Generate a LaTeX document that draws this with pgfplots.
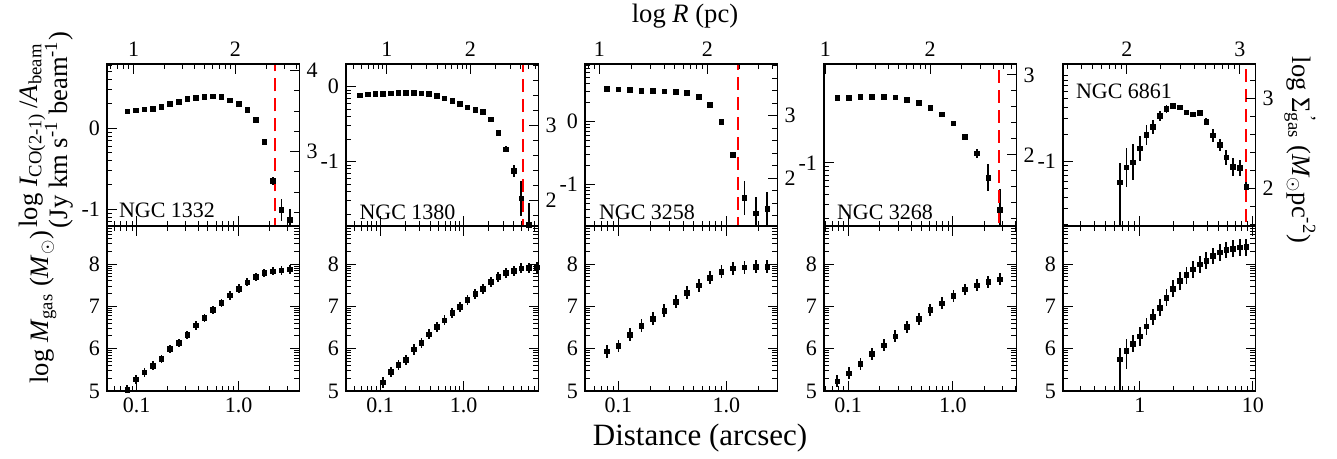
\documentclass[border=0pt]{standalone}
\usepackage{pgfplots}
\usepackage{pgfplotstable}
\pgfplotsset{compat=1.18}
\usepackage{fontspec}
\setmainfont{Liberation Serif}

\newcommand{\tickfont}{\fontsize{11}{12}\selectfont}
\newcommand{\labfont}{\fontsize{15.5}{17}\selectfont}
\newcommand{\sidefont}{\fontsize{13.3}{15}\selectfont}

\pgfplotsset{every axis/.append style={scale only axis, width=96.25pt,
   axis line style={line width=0.7pt},
   major tick length=5pt, minor tick length=2.6pt,
   tick style={black, line width=0.5pt},
   tick label style={font=\tickfont}}}

% ---------- NGC 1332 ----------
\pgfplotstableread{
x y ep em
0.0809 0.210 0.01 0.01
0.0982 0.222 0.01 0.01
0.1191 0.234 0.01 0.01
0.1445 0.238 0.01 0.01
0.1754 0.267 0.01 0.01
0.2128 0.304 0.01 0.01
0.2582 0.325 0.01 0.01
0.3133 0.366 0.01 0.01
0.3802 0.378 0.01 0.01
0.4613 0.390 0.01 0.01
0.5598 0.395 0.01 0.01
0.6792 0.386 0.01 0.01
0.8241 0.346 0.01 0.01
1.0000 0.304 0.01 0.01
1.2134 0.230 0.01 0.01
1.4723 0.102 0.01 0.01
1.7865 -0.165 0.02 0.02
2.1677 -0.647 0.05 0.05
2.6303 -1.009 0.14 0.14
3.1915 -1.132 0.14 0.14
}\tA
\pgfplotstableread{
x y ep em
0.0809 5.03 0.1 0.1
0.0982 5.27 0.1 0.1
0.1191 5.44 0.1 0.1
0.1445 5.60 0.1 0.1
0.1754 5.76 0.1 0.1
0.2128 5.99 0.1 0.1
0.2582 6.14 0.1 0.1
0.3133 6.32 0.1 0.1
0.3802 6.55 0.1 0.1
0.4613 6.73 0.1 0.1
0.5598 6.91 0.1 0.1
0.6792 7.08 0.1 0.1
0.8241 7.26 0.1 0.1
1.0000 7.42 0.1 0.1
1.2134 7.57 0.1 0.1
1.4723 7.69 0.1 0.1
1.7865 7.79 0.1 0.1
2.1677 7.83 0.1 0.1
2.6303 7.85 0.1 0.1
3.1915 7.87 0.1 0.1
}\bA
% ---------- NGC 1380 ----------
\pgfplotstableread{
x y ep em
0.0575 -0.115 0.01 0.01
0.0711 -0.102 0.01 0.01
0.0879 -0.097 0.01 0.01
0.1086 -0.093 0.01 0.01
0.1343 -0.089 0.01 0.01
0.1660 -0.084 0.01 0.01
0.2051 -0.080 0.01 0.01
0.2535 -0.084 0.01 0.01
0.3133 -0.089 0.01 0.01
0.3873 -0.097 0.01 0.01
0.4786 -0.120 0.01 0.01
0.5916 -0.155 0.01 0.01
0.7311 -0.191 0.01 0.01
0.9036 -0.227 0.01 0.01
1.1169 -0.275 0.01 0.01
1.3804 -0.306 0.01 0.01
1.7061 -0.333 0.01 0.01
2.1086 -0.435 0.02 0.02
2.6062 -0.613 0.03 0.03
3.2211 -0.835 0.04 0.04
3.9811 -1.120 0.08 0.08
4.9204 -1.488 0.23 0.23
6.0814 -1.844 0.30 0.30
}\tB
\pgfplotstableread{
x y ep em
0.1086 5.20 0.12 0.12
0.1343 5.45 0.12 0.12
0.1660 5.61 0.12 0.12
0.2051 5.73 0.12 0.12
0.2535 5.98 0.12 0.12
0.3133 6.14 0.12 0.12
0.3873 6.34 0.12 0.12
0.4786 6.51 0.12 0.12
0.5916 6.67 0.12 0.12
0.7311 6.85 0.12 0.12
0.9036 6.99 0.12 0.12
1.1169 7.15 0.12 0.12
1.3804 7.29 0.12 0.12
1.7061 7.42 0.12 0.12
2.1086 7.58 0.12 0.12
2.6062 7.70 0.12 0.12
3.2211 7.79 0.12 0.12
3.9811 7.84 0.12 0.12
4.9204 7.90 0.12 0.12
6.0814 7.91 0.12 0.12
7.5162 7.92 0.12 0.12
}\bB
% ---------- NGC 3258 ----------
\pgfplotstableread{
x y ep em
0.0787 0.522 0.01 0.01
0.1005 0.516 0.01 0.01
0.1282 0.505 0.01 0.01
0.1637 0.494 0.01 0.01
0.2089 0.490 0.01 0.01
0.2667 0.484 0.01 0.01
0.3404 0.479 0.01 0.01
0.4345 0.463 0.01 0.01
0.5546 0.399 0.01 0.01
0.7079 0.271 0.01 0.01
0.9036 -0.005 0.01 0.01
1.1535 -0.531 0.03 0.03
1.4723 -1.212 0.27 0.27
1.8793 -1.467 0.27 0.27
2.3988 -1.392 0.27 0.27
}\tC
\pgfplotstableread{
x y ep em
0.0787 5.94 0.15 0.15
0.1005 6.06 0.15 0.15
0.1282 6.33 0.15 0.15
0.1637 6.54 0.15 0.15
0.2089 6.71 0.15 0.15
0.2667 6.90 0.15 0.15
0.3404 7.11 0.15 0.15
0.4345 7.32 0.15 0.15
0.5546 7.50 0.15 0.15
0.7079 7.68 0.15 0.15
0.9036 7.82 0.15 0.15
1.1535 7.90 0.15 0.15
1.4723 7.92 0.15 0.15
1.8793 7.94 0.15 0.15
2.3988 7.94 0.15 0.15
}\bC
% ---------- NGC 3268 ----------
\pgfplotstableread{
x y ep em
0.0785 -0.192 0.02 0.02
0.1014 -0.187 0.02 0.02
0.1309 -0.179 0.02 0.02
0.1690 -0.175 0.02 0.02
0.2183 -0.175 0.02 0.02
0.2818 -0.183 0.02 0.02
0.3639 -0.212 0.02 0.02
0.4699 -0.254 0.02 0.02
0.6067 -0.317 0.02 0.02
0.7834 -0.396 0.02 0.02
1.0116 -0.508 0.02 0.02
1.3062 -0.675 0.03 0.03
1.6866 -0.883 0.06 0.06
2.1777 -1.187 0.17 0.17
2.8119 -1.592 0.27 0.27
}\tD
\pgfplotstableread{
x y ep em
0.0785 5.23 0.14 0.14
0.1014 5.42 0.14 0.14
0.1309 5.64 0.14 0.14
0.1690 5.87 0.14 0.14
0.2183 6.08 0.14 0.14
0.2818 6.29 0.14 0.14
0.3639 6.51 0.14 0.14
0.4699 6.71 0.14 0.14
0.6067 6.91 0.14 0.14
0.7834 7.07 0.14 0.14
1.0116 7.25 0.14 0.14
1.3062 7.40 0.14 0.14
1.6866 7.50 0.14 0.14
2.1777 7.58 0.14 0.14
2.8119 7.64 0.14 0.14
}\bD
% ---------- NGC 6861 ----------
\pgfplotstableread{
x y ep em
0.6659 -1.229 0.21 0.50
0.7630 -1.063 0.22 0.22
0.8734 -1.007 0.20 0.20
1.0005 -0.852 0.14 0.14
1.1457 -0.704 0.11 0.11
1.3122 -0.612 0.08 0.08
1.5028 -0.493 0.06 0.06
1.7211 -0.415 0.04 0.04
1.9712 -0.382 0.03 0.03
2.2576 -0.396 0.03 0.03
2.5856 -0.452 0.03 0.03
2.9611 -0.474 0.03 0.03
3.3912 -0.459 0.03 0.03
3.8838 -0.556 0.04 0.04
4.4479 -0.707 0.07 0.07
5.0933 -0.816 0.07 0.07
5.8345 -0.952 0.08 0.08
6.6834 -1.056 0.10 0.10
7.6543 -1.067 0.09 0.09
8.7621 -1.278 0.15 0.15
}\tE
\pgfplotstableread{
x y ep em
0.6659 5.75 0.27 1.00
0.7630 5.95 0.29 0.42
0.8734 6.12 0.20 0.20
1.0005 6.29 0.22 0.22
1.1457 6.53 0.20 0.20
1.3122 6.75 0.18 0.18
1.5028 6.97 0.20 0.20
1.7211 7.20 0.20 0.20
1.9712 7.42 0.21 0.21
2.2576 7.60 0.22 0.22
2.5856 7.74 0.20 0.20
2.9611 7.87 0.20 0.20
3.3912 7.99 0.20 0.20
3.8838 8.08 0.20 0.20
4.4479 8.19 0.20 0.20
5.0933 8.28 0.20 0.20
5.8345 8.33 0.19 0.19
6.6834 8.36 0.20 0.20
7.6543 8.39 0.20 0.20
8.7621 8.40 0.20 0.20
}\bE

\begin{document}
\begin{tikzpicture}
\path[use as bounding box] (0,0) rectangle (668.5pt,229.5pt);

% ===== Panel 1: NGC 1332 =====
\begin{axis}[xmode=log, height=81pt, at={(53.5pt,116.5pt)}, anchor=south west,
  xmin=0.0511, xmax=3.954, ymin=-1.206, ymax=0.794,
  xtick={0.1,1}, xticklabels={,}, xtick pos=left, ytick pos=left,
  minor xtick={0.03,0.04,0.05,0.06,0.07,0.08,0.09,0.2,0.3,0.4,0.5,0.6,0.7,0.8,0.9,2,3,4,5,6,7,8,9},
  ytick={-1,0}, yticklabels={-1,0},
  minor ytick={-1.155,-1.097,-1.046,-0.699,-0.523,-0.398,-0.301,-0.222,-0.155,-0.097,-0.046,0.301,0.477,0.602,0.699,0.778}]
\addplot[only marks, mark=square*, mark size=1.15pt, black, error bars/.cd, y dir=both, y explicit, error mark=none, error bar style={line width=0.9pt}] table[x=x,y=y,y error plus=ep,y error minus=em]{\tA};
\addplot[red, line width=1pt, dash pattern=on 6.5pt off 3.5pt] coordinates {(2.26,-3) (2.26,3)};
\end{axis}
\begin{axis}[xmode=log, height=81pt, at={(53.5pt,116.5pt)}, anchor=south west,
  xmin=5.49, xmax=425, ymin=2.083, ymax=4.083,
  xtick pos=right, xticklabel pos=right, ytick pos=right, yticklabel pos=right,
  xtick={10,100,1000}, xticklabels={1,2,3},
  minor xtick={6,7,8,9,20,30,40,50,60,70,80,90,200,300,400},
  ytick={3,4}, yticklabels={3,4}, minor ytick={2.25,2.5,2.75,3.25,3.5,3.75}]
\end{axis}
\begin{axis}[xmode=log, height=82.5pt, at={(53.5pt,34pt)}, anchor=south west,
  xmin=0.0511, xmax=3.954, ymin=5, ymax=8.9,
  xtick={0.1,1}, xticklabels={0.1,1.0}, xtick pos=both, xticklabel pos=left,
  ytick pos=both, yticklabel pos=left,
  minor xtick={0.03,0.04,0.05,0.06,0.07,0.08,0.09,0.2,0.3,0.4,0.5,0.6,0.7,0.8,0.9,2,3,4,5,6,7,8,9},
  ytick={5,6,7,8}, yticklabels={5,6,7,8},
  minor ytick={5.301,5.477,5.602,5.699,5.778,5.845,5.903,5.954,6.301,6.477,6.602,6.699,6.778,6.845,6.903,6.954,7.301,7.477,7.602,7.699,7.778,7.845,7.903,7.954,8.301,8.477,8.602,8.699,8.778,8.845}]
\addplot[only marks, mark=square*, mark size=1.15pt, black, error bars/.cd, y dir=both, y explicit, error mark=none, error bar style={line width=0.9pt}] table[x=x,y=y,y error plus=ep,y error minus=em]{\bA};
\end{axis}

% ===== Panel 2: NGC 1380 =====
\begin{axis}[xmode=log, height=81pt, at={(173pt,116.5pt)}, anchor=south west,
  xmin=0.0391, xmax=7.89, ymin=-1.857, ymax=0.303,
  xtick={0.1,1}, xticklabels={,}, xtick pos=left, ytick pos=left,
  minor xtick={0.04,0.05,0.06,0.07,0.08,0.09,0.2,0.3,0.4,0.5,0.6,0.7,0.8,0.9,2,3,4,5,6,7},
  ytick={-1,0}, yticklabels={-1,0},
  minor ytick={-1.699,-1.523,-1.398,-1.301,-1.222,-1.155,-1.097,-1.046,-0.699,-0.523,-0.398,-0.301,-0.222,-0.155,-0.097,-0.046,0.301}]
\addplot[only marks, mark=square*, mark size=1.15pt, black, error bars/.cd, y dir=both, y explicit, error mark=none, error bar style={line width=0.9pt}] table[x=x,y=y,y error plus=ep,y error minus=em]{\tB};
\addplot[red, line width=1pt, dash pattern=on 6.5pt off 3.5pt] coordinates {(5.16,-3) (5.16,3)};
\end{axis}
\begin{axis}[xmode=log, height=81pt, at={(173pt,116.5pt)}, anchor=south west,
  xmin=3.25, xmax=655.7, ymin=1.654, ymax=3.814,
  xtick pos=right, xticklabel pos=right, ytick pos=right, yticklabel pos=right,
  xtick={10,100,1000}, xticklabels={1,2,3},
  minor xtick={4,5,6,7,8,9,20,30,40,50,60,70,80,90,200,300,400,500,600},
  ytick={2,3}, yticklabels={2,3}, minor ytick={1.8,2.2,2.4,2.6,2.8,3.2,3.4,3.6,3.8}]
\end{axis}
\begin{axis}[xmode=log, height=82.5pt, at={(173pt,34pt)}, anchor=south west,
  xmin=0.0391, xmax=7.89, ymin=5, ymax=8.9,
  xtick={0.1,1}, xticklabels={0.1,1.0}, xtick pos=both, xticklabel pos=left,
  ytick pos=both, yticklabel pos=left,
  minor xtick={0.04,0.05,0.06,0.07,0.08,0.09,0.2,0.3,0.4,0.5,0.6,0.7,0.8,0.9,2,3,4,5,6,7},
  ytick={5,6,7,8}, yticklabels={5,6,7,8},
  minor ytick={5.301,5.477,5.602,5.699,5.778,5.845,5.903,5.954,6.301,6.477,6.602,6.699,6.778,6.845,6.903,6.954,7.301,7.477,7.602,7.699,7.778,7.845,7.903,7.954,8.301,8.477,8.602,8.699,8.778,8.845}]
\addplot[only marks, mark=square*, mark size=1.15pt, black, error bars/.cd, y dir=both, y explicit, error mark=none, error bar style={line width=0.9pt}] table[x=x,y=y,y error plus=ep,y error minus=em]{\bB};
\end{axis}

% ===== Panel 3: NGC 3258 =====
\begin{axis}[xmode=log, height=81pt, at={(292.5pt,116.5pt)}, anchor=south west,
  xmin=0.0492, xmax=2.979, ymin=-1.665, ymax=0.92,
  xtick={0.1,1}, xticklabels={,}, xtick pos=left, ytick pos=left,
  minor xtick={0.05,0.06,0.07,0.08,0.09,0.2,0.3,0.4,0.5,0.6,0.7,0.8,0.9,2},
  ytick={-1,0}, yticklabels={-1,0},
  minor ytick={-1.523,-1.398,-1.301,-1.222,-1.155,-1.097,-1.046,-0.699,-0.523,-0.398,-0.301,-0.222,-0.155,-0.097,-0.046,0.301,0.477,0.602,0.699,0.778,0.845,0.903}]
\addplot[only marks, mark=square*, mark size=1.15pt, black, error bars/.cd, y dir=both, y explicit, error mark=none, error bar style={line width=0.9pt}] table[x=x,y=y,y error plus=ep,y error minus=em]{\tC};
\addplot[red, line width=1pt, dash pattern=on 6.5pt off 3.5pt] coordinates {(1.28,-3) (1.28,3)};
\end{axis}
\begin{axis}[xmode=log, height=81pt, at={(292.5pt,116.5pt)}, anchor=south west,
  xmin=7.36, xmax=445.7, ymin=1.239, ymax=3.824,
  xtick pos=right, xticklabel pos=right, ytick pos=right, yticklabel pos=right,
  xtick={10,100,1000}, xticklabels={1,2,3},
  minor xtick={8,9,20,30,40,50,60,70,80,90,200,300,400},
  ytick={2,3}, yticklabels={2,3}, minor ytick={1.4,1.6,1.8,2.2,2.4,2.6,2.8,3.2,3.4,3.6,3.8}]
\end{axis}
\begin{axis}[xmode=log, height=82.5pt, at={(292.5pt,34pt)}, anchor=south west,
  xmin=0.0492, xmax=2.979, ymin=5, ymax=8.9,
  xtick={0.1,1}, xticklabels={0.1,1.0}, xtick pos=both, xticklabel pos=left,
  ytick pos=both, yticklabel pos=left,
  minor xtick={0.05,0.06,0.07,0.08,0.09,0.2,0.3,0.4,0.5,0.6,0.7,0.8,0.9,2},
  ytick={5,6,7,8}, yticklabels={5,6,7,8},
  minor ytick={5.301,5.477,5.602,5.699,5.778,5.845,5.903,5.954,6.301,6.477,6.602,6.699,6.778,6.845,6.903,6.954,7.301,7.477,7.602,7.699,7.778,7.845,7.903,7.954,8.301,8.477,8.602,8.699,8.778,8.845}]
\addplot[only marks, mark=square*, mark size=1.15pt, black, error bars/.cd, y dir=both, y explicit, error mark=none, error bar style={line width=0.9pt}] table[x=x,y=y,y error plus=ep,y error minus=em]{\bC};
\end{axis}

% ===== Panel 4: NGC 3268 =====
\begin{axis}[xmode=log, height=81pt, at={(412pt,116.5pt)}, anchor=south west,
  xmin=0.0587, xmax=4.046, ymin=-1.79, ymax=0.234,
  xtick={0.1,1}, xticklabels={,}, xtick pos=left, ytick pos=left,
  minor xtick={0.06,0.07,0.08,0.09,0.2,0.3,0.4,0.5,0.6,0.7,0.8,0.9,2,3,4},
  ytick={-1}, yticklabels={-1},
  minor ytick={-1.699,-1.523,-1.398,-1.301,-1.222,-1.155,-1.097,-1.046}]
\addplot[only marks, mark=square*, mark size=1.15pt, black, error bars/.cd, y dir=both, y explicit, error mark=none, error bar style={line width=0.9pt}] table[x=x,y=y,y error plus=ep,y error minus=em]{\tD};
\addplot[red, line width=1pt, dash pattern=on 6.5pt off 3.5pt] coordinates {(2.74,-3) (2.74,3)};
\end{axis}
\begin{axis}[xmode=log, height=81pt, at={(412pt,116.5pt)}, anchor=south west,
  xmin=9.69, xmax=667.6, ymin=1.1125, ymax=3.1375,
  xtick pos=right, xticklabel pos=right, ytick pos=right, yticklabel pos=right,
  xtick={10,100,1000}, xticklabels={1,2,3},
  minor xtick={20,30,40,50,60,70,80,90,200,300,400,500,600},
  ytick={2,3}, yticklabels={2,3}, minor ytick={1.2,1.4,1.6,1.8,2.2,2.4,2.6,2.8}]
\end{axis}
\begin{axis}[xmode=log, height=82.5pt, at={(412pt,34pt)}, anchor=south west,
  xmin=0.0587, xmax=4.046, ymin=5, ymax=8.9,
  xtick={0.1,1}, xticklabels={0.1,1.0}, xtick pos=both, xticklabel pos=left,
  ytick pos=both, yticklabel pos=left,
  minor xtick={0.06,0.07,0.08,0.09,0.2,0.3,0.4,0.5,0.6,0.7,0.8,0.9,2,3,4},
  ytick={5,6,7,8}, yticklabels={5,6,7,8},
  minor ytick={5.301,5.477,5.602,5.699,5.778,5.845,5.903,5.954,6.301,6.477,6.602,6.699,6.778,6.845,6.903,6.954,7.301,7.477,7.602,7.699,7.778,7.845,7.903,7.954,8.301,8.477,8.602,8.699,8.778,8.845}]
\addplot[only marks, mark=square*, mark size=1.15pt, black, error bars/.cd, y dir=both, y explicit, error mark=none, error bar style={line width=0.9pt}] table[x=x,y=y,y error plus=ep,y error minus=em]{\bD};
\end{axis}

% ===== Panel 5: NGC 6861 =====
\begin{axis}[xmode=log, height=81pt, at={(531.5pt,116.5pt)}, anchor=south west,
  xmin=0.209, xmax=10.57, ymin=-1.715, ymax=0.085,
  xtick={1,10}, xticklabels={,}, xtick pos=left, ytick pos=left,
  minor xtick={0.3,0.4,0.5,0.6,0.7,0.8,0.9,2,3,4,5,6,7,8,9},
  ytick={-1}, yticklabels={-1},
  minor ytick={-1.699,-1.523,-1.398,-1.301,-1.222,-1.155,-1.097,-1.046,-0.699,-0.523,-0.398,-0.301,-0.222,-0.155,-0.097,-0.046}]
\addplot[only marks, mark=square*, mark size=1.15pt, black, error bars/.cd, y dir=both, y explicit, error mark=none, error bar style={line width=0.9pt}] table[x=x,y=y,y error plus=ep,y error minus=em]{\tE};
\addplot[red, line width=1pt, dash pattern=on 6.5pt off 3.5pt] coordinates {(8.74,-3) (8.74,3)};
\end{axis}
\begin{axis}[xmode=log, height=81pt, at={(531.5pt,116.5pt)}, anchor=south west,
  xmin=27.2, xmax=1374, ymin=1.581, ymax=3.381,
  xtick pos=right, xticklabel pos=right, ytick pos=right, yticklabel pos=right,
  xtick={10,100,1000}, xticklabels={1,2,3},
  minor xtick={30,40,50,60,70,80,90,200,300,400,500,600,700,800,900},
  ytick={2,3}, yticklabels={2,3}, minor ytick={1.6,1.8,2.2,2.4,2.6,2.8,3.2}]
\end{axis}
\begin{axis}[xmode=log, height=82.5pt, at={(531.5pt,34pt)}, anchor=south west,
  xmin=0.209, xmax=10.57, ymin=5, ymax=8.9,
  xtick={1,10}, xticklabels={1,10}, xtick pos=both, xticklabel pos=left,
  ytick pos=both, yticklabel pos=left,
  minor xtick={0.3,0.4,0.5,0.6,0.7,0.8,0.9,2,3,4,5,6,7,8,9},
  ytick={5,6,7,8}, yticklabels={5,6,7,8},
  minor ytick={5.301,5.477,5.602,5.699,5.778,5.845,5.903,5.954,6.301,6.477,6.602,6.699,6.778,6.845,6.903,6.954,7.301,7.477,7.602,7.699,7.778,7.845,7.903,7.954,8.301,8.477,8.602,8.699,8.778,8.845}]
\addplot[only marks, mark=square*, mark size=1.15pt, black, error bars/.cd, y dir=both, y explicit, error mark=none, error bar style={line width=0.9pt}] table[x=x,y=y,y error plus=ep,y error minus=em]{\bE};
\end{axis}

% ===== Galaxy names =====
\node[font=\tickfont] at (83.5pt,124.5pt) {NGC 1332};
\node[font=\tickfont] at (203.75pt,123.5pt) {NGC 1380};
\node[font=\tickfont] at (323.5pt,123.5pt) {NGC 3258};
\node[font=\tickfont] at (442.5pt,123.5pt) {NGC 3268};
\node[font=\tickfont] at (562pt,184pt) {NGC 6861};

% ===== Axis titles =====
\node[font=\sidefont] at (342.5pt,221.5pt) {log \textit{R} (pc)};
\node[font=\labfont] at (350pt,10.5pt) {Distance (arcsec)};
\node[font=\sidefont, rotate=90] at (16pt,161.75pt) {log \textit{I}\textsubscript{CO(2-1)}\,/\textit{A}\textsubscript{beam}};
\node[font=\sidefont, rotate=90] at (29.5pt,164.5pt) {(Jy km s\textsuperscript{-1} beam\textsuperscript{-1})};
\node[font=\sidefont, rotate=90] at (21.5pt,76pt) {log \textit{M}\textsubscript{gas} (\textit{M}\textsubscript{$\odot$})};
\node[font=\sidefont, rotate=-90] at (650pt,154.5pt) {log Σ\rlap{\textsuperscript{\,'}}\textsubscript{gas} (\textit{M}\textsubscript{$\odot$}pc\textsuperscript{-2})};
\end{tikzpicture}
\end{document}
